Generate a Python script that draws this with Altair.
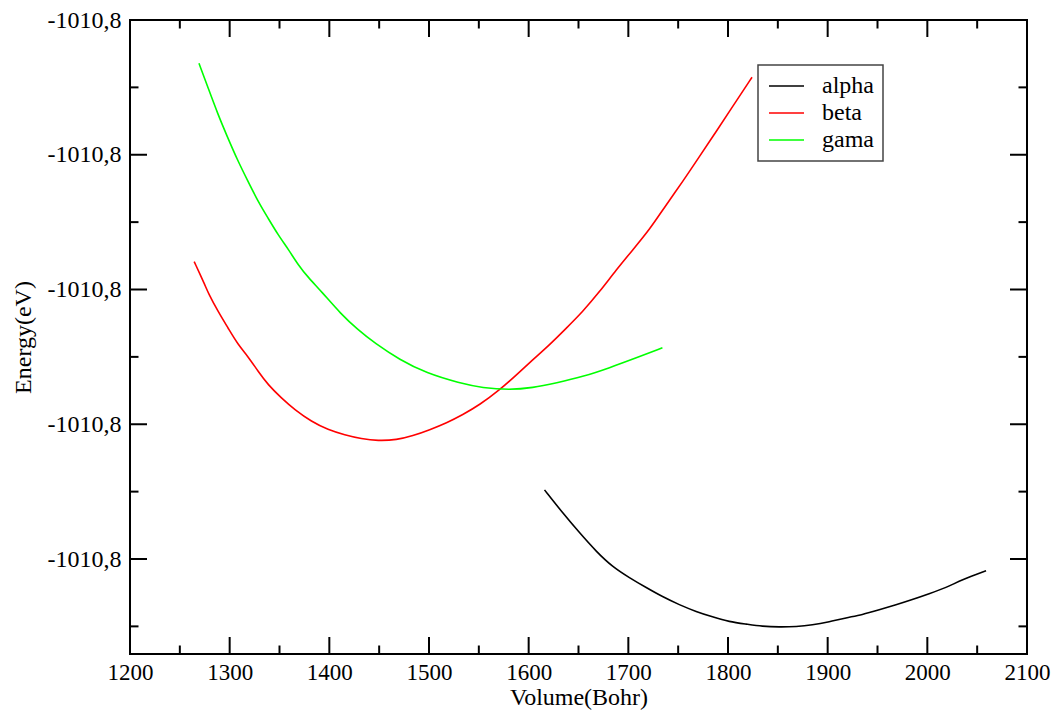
import altair as alt
import pandas as pd

# ---- data ----
series_names = ["alpha", "beta", "gama"]
series_colors = ["#000000", "#ff0000", "#00ff00"]

alpha_volume = [1615.9, 1634.0, 1651.0, 1668.0, 1684.1, 1701.1, 1718.1, 1734.2, 1751.2,
                1768.2, 1784.3, 1801.3, 1818.4, 1834.4, 1851.4, 1868.5, 1884.5, 1901.5,
                1918.6, 1934.6, 1951.7, 1968.7, 1984.7, 2001.8, 2018.8, 2034.8, 2058.9]
alpha_energy = [-1010.83487, -1010.83657, -1010.83805, -1010.83946, -1010.84058, -1010.84139,
                -1010.84213, -1010.84280, -1010.84340, -1010.84391, -1010.84429, -1010.84466,
                -1010.84483, -1010.84500, -1010.84505, -1010.84502, -1010.84490, -1010.84466,
                -1010.84436, -1010.84414, -1010.84377, -1010.84340, -1010.84302, -1010.84258,
                -1010.84213, -1010.84154, -1010.84087]

beta_volume = [1264.4, 1275.2, 1278.5, 1288.5, 1298.5, 1308.5, 1318.6, 1328.6, 1338.6,
               1352.0, 1365.4, 1382.1, 1398.7, 1415.5, 1432.2, 1448.8, 1467.6, 1483.6,
               1500.7, 1517.7, 1533.7, 1550.8, 1570.8, 1587.9, 1603.9, 1620.9, 1638.0,
               1654.0, 1671.0, 1687.8, 1704.4, 1721.1, 1737.9, 1754.5, 1771.3, 1788.0,
               1804.6, 1824.1]
beta_energy = [-1010.81793, -1010.81966, -1010.82027, -1010.82166, -1010.82287, -1010.82411,
               -1010.82498, -1010.82609, -1010.82708, -1010.82806, -1010.82893, -1010.82980,
               -1010.83041, -1010.83079, -1010.83108, -1010.83123, -1010.83116, -1010.83086,
               -1010.83041, -1010.82990, -1010.82930, -1010.82856, -1010.82745, -1010.82633,
               -1010.82522, -1010.82411, -1010.82285, -1010.82166, -1010.82018, -1010.81855,
               -1010.81706, -1010.81558, -1010.81372, -1010.81200, -1010.81014, -1010.80829,
               -1010.80643, -1010.80425]

gama_volume = [1269.2, 1278.5, 1288.5, 1296.9, 1308.5, 1318.6, 1328.6, 1338.6, 1348.6,
               1359.3, 1368.7, 1378.7, 1392.1, 1411.5, 1428.8, 1445.5, 1470.6, 1497.3,
               1530.7, 1553.8, 1580.8, 1603.9, 1627.9, 1654.0, 1681.1, 1708.1, 1734.2]
gama_energy = [-1010.80321, -1010.80507, -1010.80705, -1010.80853, -1010.81051, -1010.81200,
               -1010.81348, -1010.81471, -1010.81595, -1010.81706, -1010.81817, -1010.81910,
               -1010.82015, -1010.82181, -1010.82300, -1010.82398, -1010.82522, -1010.82621,
               -1010.82695, -1010.82730, -1010.82745, -1010.82730, -1010.82693, -1010.82648,
               -1010.82581, -1010.82507, -1010.82433]

x_major = [1200, 1300, 1400, 1500, 1600, 1700, 1800, 1900, 2000, 2100]
x_minor = [1250, 1350, 1450, 1550, 1650, 1750, 1850, 1950, 2050]
y_major = [-1010.80, -1010.81, -1010.82, -1010.83, -1010.84]
y_minor = [-1010.805, -1010.815, -1010.825, -1010.835, -1010.845]
x_domain = [1200, 2100]
y_domain = [-1010.84705, -1010.80]

# ---- layout / style ----
W, H = 897, 634
FONT = "Liberation Serif"
MAJOR_LEN, MINOR_LEN = 17, 8.5

rows = []
for name, vols, ens in [("alpha", alpha_volume, alpha_energy),
                        ("beta", beta_volume, beta_energy),
                        ("gama", gama_volume, gama_energy)]:
    for v, e in zip(vols, ens):
        rows.append({"series": name, "volume": v, "energy": e})
df = pd.DataFrame(rows)

x_scale = alt.Scale(domain=x_domain, nice=False, zero=False)
y_scale = alt.Scale(domain=y_domain, nice=False, zero=False)

x_axis = alt.Axis(values=x_major, format="d", title="Volume(Bohr)",
                  ticks=False, tickSize=0, domain=False, grid=False,
                  labelFontSize=23, labelPadding=7, labelFlush=False, labelOverlap=False,
                  titleX=W / 2, titleY=50, titleBaseline="alphabetic",
                  titleAlign="center")
y_axis = alt.Axis(values=y_major,
                  labelExpr="'-' + replace(format(abs(datum.value), '.1f'), '.', ',')",
                  title="Energy(eV)", ticks=False, tickSize=0, domain=False,
                  grid=False, labelPadding=9, labelFlush=False, labelOverlap=False,
                  titleX=-100, titleY=H / 2, titleAngle=270,
                  titleBaseline="alphabetic", titleAlign="center")

lines = alt.Chart(df).mark_line(strokeWidth=1.6, interpolate="basis").encode(
    x=alt.X("volume:Q", scale=x_scale, axis=x_axis),
    y=alt.Y("energy:Q", scale=y_scale, axis=y_axis),
    color=alt.Color("series:N",
                    scale=alt.Scale(domain=series_names, range=series_colors),
                    legend=alt.Legend(title=None, orient="none", legendX=628, legendY=45,
                                      symbolType="M-1,0H2.5", symbolSize=400,
                                      symbolStrokeWidth=1.6, labelFont=FONT,
                                      labelFontSize=24, labelColor="black",
                                      labelOffset=31, padding=9, rowPadding=3,
                                      strokeColor="#444444", fillColor="white")),
)


def tick_layer(values, channel, side, length):
    tdf = pd.DataFrame({"volume" if channel == "x" else "energy": values})
    base = alt.Chart(tdf).mark_rule(color="black", strokeWidth=2)
    if channel == "x":
        enc = dict(x=alt.X("volume:Q", scale=x_scale, axis=x_axis))
        if side == "bottom":
            enc.update(y=alt.value(H), y2=alt.value(H - length))
        else:
            enc.update(y=alt.value(0), y2=alt.value(length))
    else:
        enc = dict(y=alt.Y("energy:Q", scale=y_scale, axis=y_axis))
        if side == "left":
            enc.update(x=alt.value(0), x2=alt.value(length))
        else:
            enc.update(x=alt.value(W), x2=alt.value(W - length))
    return base.encode(**enc)


ticks = [
    tick_layer(x_major, "x", "bottom", MAJOR_LEN),
    tick_layer(x_minor, "x", "bottom", MINOR_LEN),
    tick_layer(x_major, "x", "top", MAJOR_LEN),
    tick_layer(x_minor, "x", "top", MINOR_LEN),
    tick_layer(y_major, "y", "left", MAJOR_LEN),
    tick_layer(y_minor, "y", "left", MINOR_LEN),
    tick_layer(y_major, "y", "right", MAJOR_LEN),
    tick_layer(y_minor, "y", "right", MINOR_LEN),
]

chart = alt.layer(lines, *ticks).properties(
    width=W, height=H,
    autosize=alt.AutoSizeParams(type="none"),
    padding={"left": 130, "top": 20, "right": 28, "bottom": 60},
    background="white",
).configure_view(
    stroke="black", strokeWidth=2
).configure_axis(
    labelFont=FONT, labelFontSize=24, labelColor="black",
    titleFont=FONT, titleFontSize=24, titleFontWeight="normal", titleColor="black",
).configure_legend(
    strokeWidth=1.5
)

chart.save("out.html", embed_options={"renderer": "svg", "actions": False})
